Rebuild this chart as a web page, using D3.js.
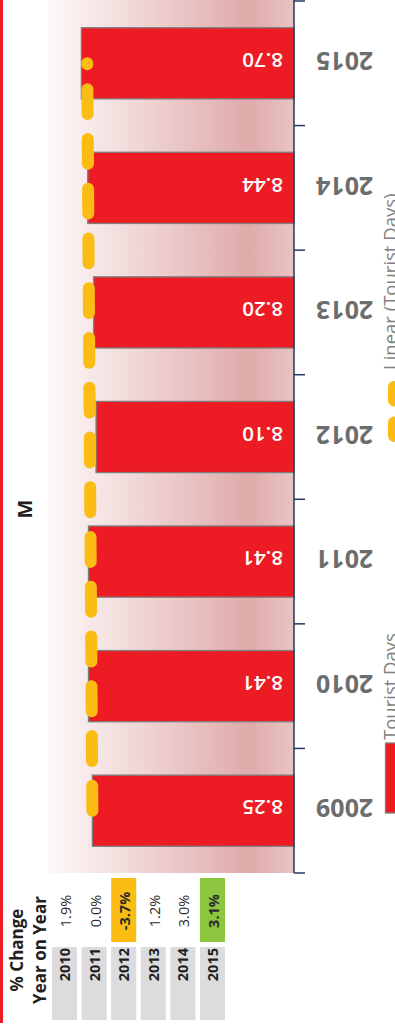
<!DOCTYPE html>
<html>
<head>
<meta charset="utf-8">
<script src="https://cdn.jsdelivr.net/npm/d3@7"></script>
<style>
  html, body { margin: 0; padding: 0; background: #fff; overflow: hidden; }
  svg { display: block; }
</style>
</head>
<body>
<script>
// Tourist days (millions) per year
const years = ["2009", "2010", "2011", "2012", "2013", "2014", "2015"];
const touristDays = [8.25, 8.41, 8.41, 8.10, 8.20, 8.44, 8.70];
const valueLabels = ["8.25", "8.41", "8.41", "8.10", "8.20", "8.44", "8.70"];

// Linear trend line end points
const trendYears = ["2009", "2015"];
const trendValues = [8.25, 8.46];

// Year-on-year change table
const changeYears = ["2010", "2011", "2012", "2013", "2014", "2015"];
const changePct = [1.9, 0.0, -3.7, 1.2, 3.0, 3.1];

const valueDomain = [0, 10];
const unitTitle = "M";
const seriesName = "Tourist Days";
const trendName = "Linear (Tourist Days)";
const tableTitle = ["% Change", "Year on Year"];

const W = 395, H = 1029;
const FONT = "'Open Sans', 'Liberation Sans', sans-serif";
const RED = "#ed1c24", YELLOW = "#fbbd14", GREEN = "#8cc63f";

const svg = d3.select("body").append("svg")
  .attr("width", W).attr("height", H)
  .attr("font-family", FONT);

// Value axis runs right-to-left from the baseline; categories run bottom-to-top
const x = d3.scaleLinear().domain(valueDomain).range([294, 49.6]);
const y = d3.scaleBand().domain(years).range([873, 1]).padding(0);
const cy = d => y(d) + y.bandwidth() / 2;
const barW = y.bandwidth() / 1.75;

// red page rule on the left
svg.append("rect").attr("x", 0).attr("y", 0).attr("width", 3).attr("height", 1023).attr("fill", RED);

// plot background gradient
const defs = svg.append("defs");
const grad = defs.append("linearGradient").attr("id", "plotBg")
  .attr("x1", 0).attr("x2", 1).attr("y1", 0).attr("y2", 0);
[[0, "#fdf8f8"], [0.3, "#f3dddd"], [0.82, "#dfaaaa"], [1, "#e9c4c4"]]
  .forEach(([o, c]) => grad.append("stop").attr("offset", o).attr("stop-color", c));

svg.append("rect")
  .attr("x", 48).attr("y", 0)
  .attr("width", x(0) - 48).attr("height", y.range()[0])
  .attr("fill", "url(#plotBg)");

// bars
svg.append("g").selectAll("rect").data(years).join("rect")
  .attr("x", (d, i) => x(touristDays[i]))
  .attr("width", (d, i) => x(0) - x(touristDays[i]))
  .attr("y", d => cy(d) - barW / 2)
  .attr("height", barW)
  .attr("fill", RED)
  .attr("stroke", "#7f7f7f")
  .attr("stroke-width", 1.3);

// value labels inside the bars
svg.append("g").selectAll("text").data(years).join("text")
  .attr("transform", d => `translate(${x(0) - 11},${cy(d) - 3.1}) rotate(180)`)
  .attr("text-anchor", "start")
  .attr("dy", "0.35em")
  .attr("font-size", 20.5)
  .attr("font-weight", 600)
  .attr("fill", "#fff")
  .text((d, i) => valueLabels[i]);

// linear trend line
const trendLen = Math.hypot(x(trendValues[1]) - x(trendValues[0]), cy(trendYears[1]) - cy(trendYears[0]));
const period = (trendLen - 1) / 15;
svg.append("line")
  .attr("x1", x(trendValues[0])).attr("y1", cy(trendYears[0]))
  .attr("x2", x(trendValues[1])).attr("y2", cy(trendYears[1]))
  .attr("stroke", YELLOW)
  .attr("stroke-width", 12)
  .attr("stroke-linecap", "round")
  .attr("stroke-dasharray", `${period / 2} ${period / 2}`);

// category axis
const axis = svg.append("g");
axis.append("line")
  .attr("x1", x(0)).attr("x2", x(0))
  .attr("y1", 0).attr("y2", y.range()[0])
  .attr("stroke", "#1f3a5f").attr("stroke-width", 1.5);
const boundaries = years.map(d => y(d)).concat([y.range()[0]]);
axis.selectAll("line.tick").data(boundaries).join("line")
  .attr("class", "tick")
  .attr("x1", x(0)).attr("x2", x(0) + 11)
  .attr("y1", d => d).attr("y2", d => d)
  .attr("stroke", "#1f3a5f").attr("stroke-width", 1.5);
axis.selectAll("text").data(years).join("text")
  .attr("transform", d => `translate(${x(0) + 22},${cy(d) - 2.5}) rotate(180)`)
  .attr("text-anchor", "end")
  .attr("dy", "0.35em")
  .attr("font-size", 25)
  .attr("font-weight", 700)
  .attr("fill", "#6d6d6d")
  .text(d => d);

// unit title
svg.append("text")
  .attr("transform", "translate(32,509) rotate(-90)")
  .attr("text-anchor", "middle")
  .attr("font-size", 20)
  .attr("font-weight", 700)
  .attr("fill", "#231f20")
  .text(unitTitle);

// legend
const legend = svg.append("g");
legend.append("line")
  .attr("x1", 394).attr("x2", 394).attr("y1", 436).attr("y2", 387)
  .attr("stroke", YELLOW).attr("stroke-width", 12)
  .attr("stroke-linecap", "round").attr("stroke-dasharray", "13.5 22");
legend.append("text")
  .attr("transform", "translate(397,370) rotate(-90)")
  .attr("font-size", 18.5).attr("fill", "#7f7f7f")
  .text(trendName);
legend.append("rect")
  .attr("x", 385.5).attr("y", 743).attr("width", 20).attr("height", 70)
  .attr("fill", RED).attr("stroke", "#7f7f7f").attr("stroke-width", 1.3);
legend.append("text")
  .attr("transform", "translate(397,740) rotate(-90)")
  .attr("font-size", 18.5).attr("fill", "#7f7f7f")
  .text(seriesName);

// year-on-year change table
const tx = d3.scaleBand().domain(changeYears).range([52, 225]).paddingInner(0.155).paddingOuter(0);
const tcx = d => tx(d) + tx.bandwidth() / 2;
const minPct = d3.min(changePct), maxPct = d3.max(changePct);
const table = svg.append("g");

table.selectAll("text.title").data(tableTitle).join("text")
  .attr("class", "title")
  .attr("transform", (d, i) => `translate(${23 + i * 23},950) rotate(-90)`)
  .attr("text-anchor", "middle")
  .attr("font-size", 17).attr("font-weight", 700).attr("fill", "#231f20")
  .text(d => d);

table.selectAll("rect.yr").data(changeYears).join("rect")
  .attr("class", "yr")
  .attr("x", d => tx(d)).attr("width", tx.bandwidth())
  .attr("y", 947).attr("height", 73)
  .attr("fill", "#dcdcde");

table.selectAll("rect.hl").data(changeYears.filter((d, i) => changePct[i] === minPct || changePct[i] === maxPct)).join("rect")
  .attr("class", "hl")
  .attr("x", d => tx(d)).attr("width", tx.bandwidth())
  .attr("y", 878).attr("height", 64)
  .attr("fill", d => changePct[changeYears.indexOf(d)] === minPct ? YELLOW : GREEN);

table.selectAll("text.yr").data(changeYears).join("text")
  .attr("class", "yr")
  .attr("transform", d => `translate(${tcx(d) + 5.5},948) rotate(-90)`)
  .attr("text-anchor", "end")
  .attr("font-size", 14.5).attr("font-weight", 700).attr("fill", "#231f20")
  .text(d => d);

table.selectAll("text.pct").data(changeYears).join("text")
  .attr("class", "pct")
  .attr("transform", d => `translate(${tcx(d) + 6.5},911) rotate(-90)`)
  .attr("text-anchor", "middle")
  .attr("font-size", 14.5)
  .attr("font-weight", (d, i) => (changePct[i] === minPct || changePct[i] === maxPct) ? 700 : 400)
  .attr("fill", "#2b2b2b")
  .text((d, i) => changePct[i].toFixed(1) + "%");
</script>
</body>
</html>
